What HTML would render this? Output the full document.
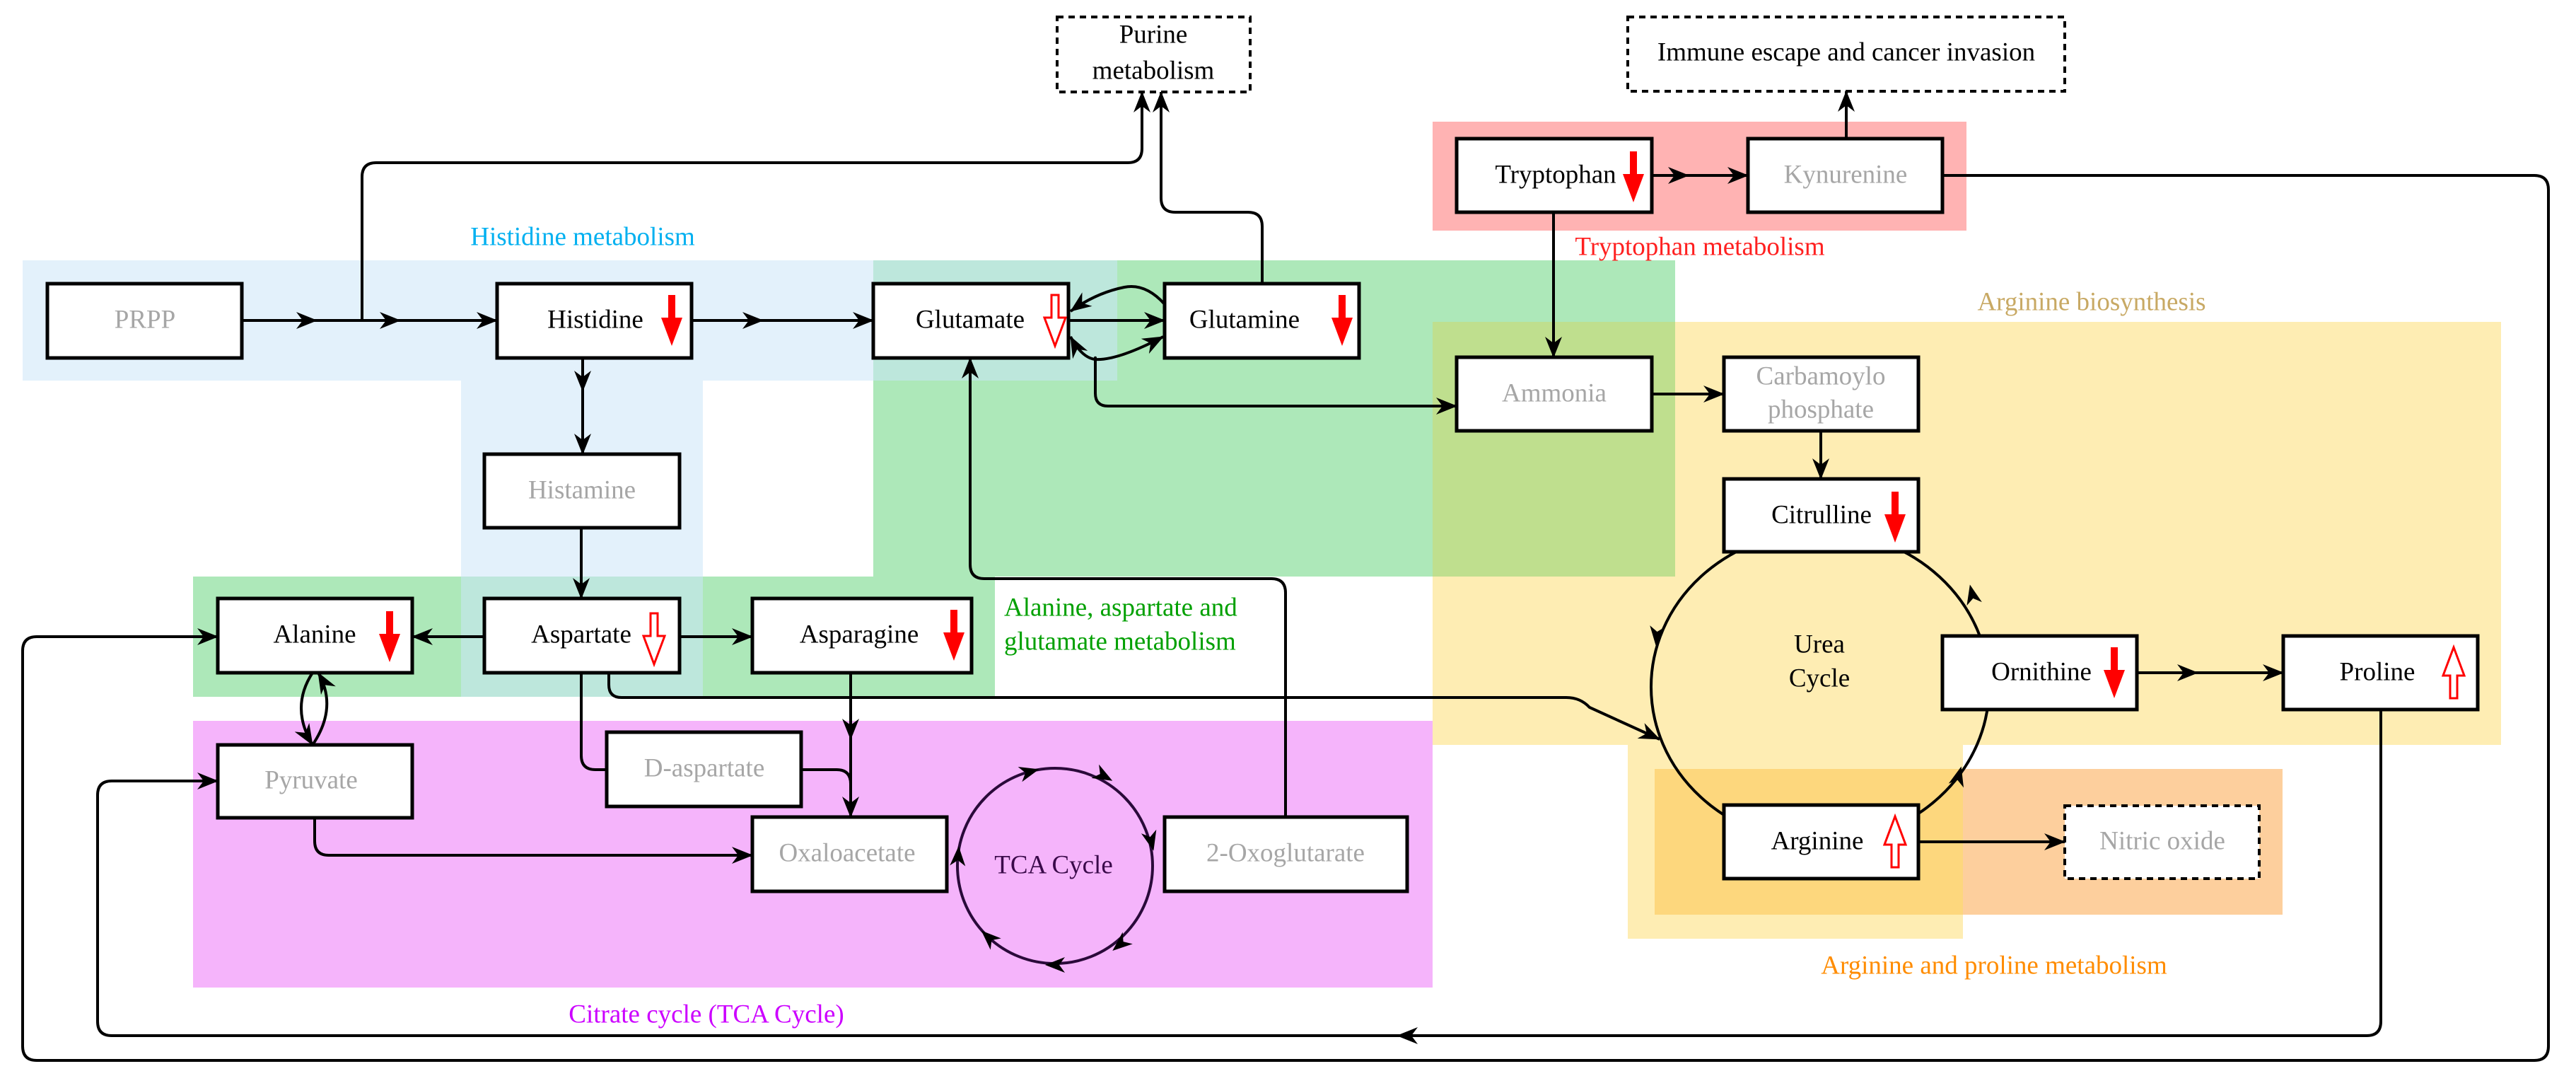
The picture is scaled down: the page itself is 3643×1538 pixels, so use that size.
<!DOCTYPE html>
<html><head><meta charset="utf-8"><style>
html,body{margin:0;padding:0;background:#fff}
svg{display:block}
svg text{font-family:"Liberation Serif","DejaVu Serif",serif;font-size:37px;dominant-baseline:middle;text-anchor:middle}
.g{fill:#a6a6a6}
.c{fill:none;stroke:#000;stroke-width:4}
.b{fill:#fff;stroke:#000;stroke-width:5}
.d{fill:#fff;stroke:#000;stroke-width:4;stroke-dasharray:9 7}
</style></head><body>
<svg width="3643" height="1538" viewBox="0 0 3643 1538" xmlns="http://www.w3.org/2000/svg" font-family="Liberation Serif, serif">
<defs>
<marker id="a" viewBox="0 0 30 24" refX="29" refY="12" markerWidth="30" markerHeight="24" orient="auto" markerUnits="userSpaceOnUse"><path d="M0,0 L30,12 L0,24 L9,12 Z"/></marker>
<path id="fd" d="M-5,-36 L5,-36 L5,-4 L15,-4 L0,36 L-15,-4 L-5,-4 Z"/>
<path id="ah" d="M-14,-11 L14,0 L-14,11 L-6,0 Z"/>
</defs>
<rect x="32" y="368" width="1548" height="170" fill="#e3f1fb"/>
<rect x="652" y="538" width="342" height="447" fill="#e3f1fb"/>
<rect x="1235" y="368" width="1134" height="447" fill="#ade8b9"/>
<rect x="1235" y="368" width="345" height="170" fill="#bde7dc"/>
<rect x="273" y="815" width="1134" height="170" fill="#ade8b9"/>
<rect x="652" y="815" width="342" height="170" fill="#bde7dc"/>
<rect x="273" y="1019" width="1753" height="377" fill="#f5b4fb"/>
<rect x="2026" y="172" width="755" height="154" fill="#ffb3b3"/>
<rect x="2026" y="455" width="1511" height="598" fill="#feedb3"/>
<rect x="2302" y="1053" width="474" height="274" fill="#feedb3"/>
<rect x="2026" y="455" width="343" height="360" fill="#bfdf8e"/>
<rect x="2340" y="1087" width="888" height="206" fill="#fdcf9d"/>
<rect x="2340" y="1087" width="436" height="206" fill="#fdd77d"/>
<text x="824" y="338" fill="#00b0f0">Histidine metabolism</text>
<text x="2404" y="352" fill="#ff2020">Tryptophan metabolism</text>
<text x="2958" y="430" fill="#c8a964">Arginine biosynthesis</text>
<text x="1420" y="862" fill="#00a000" style="text-anchor:start">Alanine, aspartate and</text>
<text x="1420" y="910" fill="#00a000" style="text-anchor:start">glutamate metabolism</text>
<text x="999" y="1437" fill="#cc00ff">Citrate cycle (TCA Cycle)</text>
<text x="2820" y="1368" fill="#ff8c00">Arginine and proline metabolism</text>
<circle cx="1492" cy="1224" r="138" fill="none" stroke="#2a0a3a" stroke-width="4"/>
<g fill="#000">
<use href="#ah" transform="translate(1456,1091) rotate(-15)"/>
<use href="#ah" transform="translate(1561,1097) rotate(29)"/>
<use href="#ah" transform="translate(1628,1189) rotate(76)"/>
<use href="#ah" transform="translate(1584,1335) rotate(140)"/>
<use href="#ah" transform="translate(1492,1364) rotate(180)"/>
<use href="#ah" transform="translate(1398,1325) rotate(223)"/>
<use href="#ah" transform="translate(1355,1210) rotate(273)"/>
</g>
<text x="1490" y="1226" fill="#3a0a4a">TCA Cycle</text>
<ellipse cx="2574" cy="971" rx="239" ry="220" fill="none" stroke="#000" stroke-width="4"/>
<g fill="#000">
<use href="#ah" transform="translate(2343,899) rotate(95)"/>
<use href="#ah" transform="translate(2789,840) rotate(-103)"/>
<use href="#ah" transform="translate(2770,1097) rotate(-75)"/>
</g>
<text x="2573" y="914" fill="#000">Urea</text>
<text x="2573" y="962" fill="#000">Cycle</text>
<g class="c" style="fill:none;stroke:#000;stroke-width:4">
<path d="M342,453 L448,453" marker-end="url(#a)"/>
<path d="M448,453 L566,453" marker-end="url(#a)"/>
<path d="M566,453 L703,453" marker-end="url(#a)"/>
<path d="M512,453 L512,250 Q512,230 532,230 L1595,230 Q1615,230 1615,210 L1615,130" marker-end="url(#a)"/>
<path d="M1785,401 L1785,320 Q1785,300 1765,300 L1662,300 Q1642,300 1642,280 L1642,130" marker-end="url(#a)"/>
<path d="M978,453 L1079,453" marker-end="url(#a)"/>
<path d="M1079,453 L1235,453" marker-end="url(#a)"/>
<path d="M824,506 L824,553" marker-end="url(#a)"/>
<path d="M824,553 L824,642" marker-end="url(#a)"/>
<path d="M1511,453 L1647,453" marker-end="url(#a)"/>
<path d="M1647,430 Q1620,400 1590,406 Q1550,414 1514,440" marker-end="url(#a)"/>
<path d="M1549,508 Q1530,506 1514,476" marker-end="url(#a)"/>
<path d="M1549,508 Q1580,510 1645,476" marker-end="url(#a)"/>
<path d="M1549,508 Q1549,500 1549,520 L1549,556 Q1549,574 1567,574 L2060,574" marker-end="url(#a)"/>
<path d="M2336,248 L2388,248" marker-end="url(#a)"/>
<path d="M2388,248 L2472,248" marker-end="url(#a)"/>
<path d="M2611,196 L2611,129" marker-end="url(#a)"/>
<path d="M2197,300 L2197,505" marker-end="url(#a)"/>
<path d="M2336,557 L2438,557" marker-end="url(#a)"/>
<path d="M2575,609 L2575,677" marker-end="url(#a)"/>
<path d="M3022,951 L3108,951" marker-end="url(#a)"/>
<path d="M3108,951 L3229,951" marker-end="url(#a)"/>
<path d="M2713,1190 L2920,1190" marker-end="url(#a)"/>
<path d="M2747,248 L3584,248 Q3604,248 3604,268 L3604,1479 Q3604,1499 3584,1499 L52,1499 Q32,1499 32,1479 L32,920 Q32,900 52,900 L308,900" marker-end="url(#a)"/>
<path d="M3367,1003 L3367,1444 Q3367,1464 3347,1464 L1976,1464" marker-end="url(#a)"/>
<path d="M1976,1464 L158,1464 Q138,1464 138,1444 L138,1124 Q138,1104 158,1104 L308,1104" marker-end="url(#a)"/>
<path d="M685,900 L583,900" marker-end="url(#a)"/>
<path d="M961,900 L1064,900" marker-end="url(#a)"/>
<path d="M822,746 L822,846" marker-end="url(#a)"/>
<path d="M861,951 L861,968 Q861,986 879,986 L2215,986 Q2235,986 2248,1000 L2347,1045" marker-end="url(#a)"/>
<path d="M822,951 L822,1068 Q822,1088 842,1088 L858,1088"/>
<path d="M1133,1088 L1183,1088 Q1203,1088 1203,1108 L1203,1155" marker-end="url(#a)"/>
<path d="M1203,951 L1203,1045" marker-end="url(#a)"/>
<path d="M1203,1045 L1203,1110"/>
<path d="M445,1156 L445,1189 Q445,1209 465,1209 L1064,1209" marker-end="url(#a)"/>
<path d="M1818,1155 L1818,838 Q1818,818 1798,818 L1392,818 Q1372,818 1372,798 L1372,506" marker-end="url(#a)"/>
<path d="M442,951 Q410,1000 442,1053" marker-end="url(#a)"/>
<path d="M442,1053 Q478,1000 450,951" marker-end="url(#a)"/>
</g>
<rect class="d" x="1495" y="24" width="273" height="106"/>
<text x="1631" y="52">Purine</text><text x="1631" y="103">metabolism</text>
<rect class="d" x="2302" y="24" width="618" height="105"/>
<text x="2611" y="77">Immune escape and cancer invasion</text>
<rect class="b" x="67" y="401" width="275" height="105"/><text class="g" x="205" y="455">PRPP</text>
<rect class="b" x="703" y="401" width="275" height="105"/><text x="842" y="455">Histidine</text>
<rect class="b" x="1235" y="401" width="276" height="105"/><text x="1372" y="455">Glutamate</text>
<rect class="b" x="1647" y="401" width="275" height="105"/><text x="1760" y="455">Glutamine</text>
<rect class="b" x="685" y="642" width="276" height="104"/><text class="g" x="823" y="696">Histamine</text>
<rect class="b" x="2060" y="196" width="276" height="104"/><text x="2200" y="250">Tryptophan</text>
<rect class="b" x="2472" y="196" width="275" height="104"/><text class="g" x="2610" y="250">Kynurenine</text>
<rect class="b" x="2060" y="505" width="276" height="104"/><text class="g" x="2198" y="559">Ammonia</text>
<rect class="b" x="2438" y="505" width="275" height="104"/><text class="g" x="2575" y="535">Carbamoylo</text><text class="g" x="2575" y="582">phosphate</text>
<rect class="b" x="2438" y="677" width="275" height="103"/><text x="2576" y="731">Citrulline</text>
<rect class="b" x="308" y="846" width="275" height="105"/><text x="445" y="900">Alanine</text>
<rect class="b" x="685" y="846" width="276" height="105"/><text x="822" y="900">Aspartate</text>
<rect class="b" x="1064" y="846" width="310" height="105"/><text x="1215" y="900">Asparagine</text>
<rect class="b" x="308" y="1053" width="275" height="103"/><text class="g" x="440" y="1106">Pyruvate</text>
<rect class="b" x="858" y="1035" width="275" height="105"/><text class="g" x="996" y="1089">D-aspartate</text>
<rect class="b" x="1064" y="1155" width="275" height="105"/><text class="g" x="1198" y="1209">Oxaloacetate</text>
<rect class="b" x="1647" y="1155" width="343" height="105"/><text class="g" x="1818" y="1209">2-Oxoglutarate</text>
<rect class="b" x="2747" y="899" width="275" height="104"/><text x="2887" y="953">Ornithine</text>
<rect class="b" x="3229" y="899" width="275" height="104"/><text x="3362" y="953">Proline</text>
<rect class="b" x="2438" y="1138" width="275" height="104"/><text x="2570" y="1192">Arginine</text>
<rect class="d" x="2920" y="1139" width="275" height="103"/><text class="g" x="3058" y="1192">Nitric oxide</text>
<g fill="#ff0000">
<use href="#fd" transform="translate(950,453)"/>
<use href="#fd" transform="translate(1898,453)"/>
<use href="#fd" transform="translate(2310,250)"/>
<use href="#fd" transform="translate(2680,731)"/>
<use href="#fd" transform="translate(551,900)"/>
<use href="#fd" transform="translate(1349,898)"/>
<use href="#fd" transform="translate(2990,951)"/>
</g>
<g fill="#fff" stroke="#ff0000" stroke-width="3">
<use href="#fd" transform="translate(1492,453)"/>
<use href="#fd" transform="translate(925,903)"/>
<use href="#fd" transform="translate(3470,951) rotate(180)"/>
<use href="#fd" transform="translate(2680,1190) rotate(180)"/>
</g>
</svg>
</body></html>
